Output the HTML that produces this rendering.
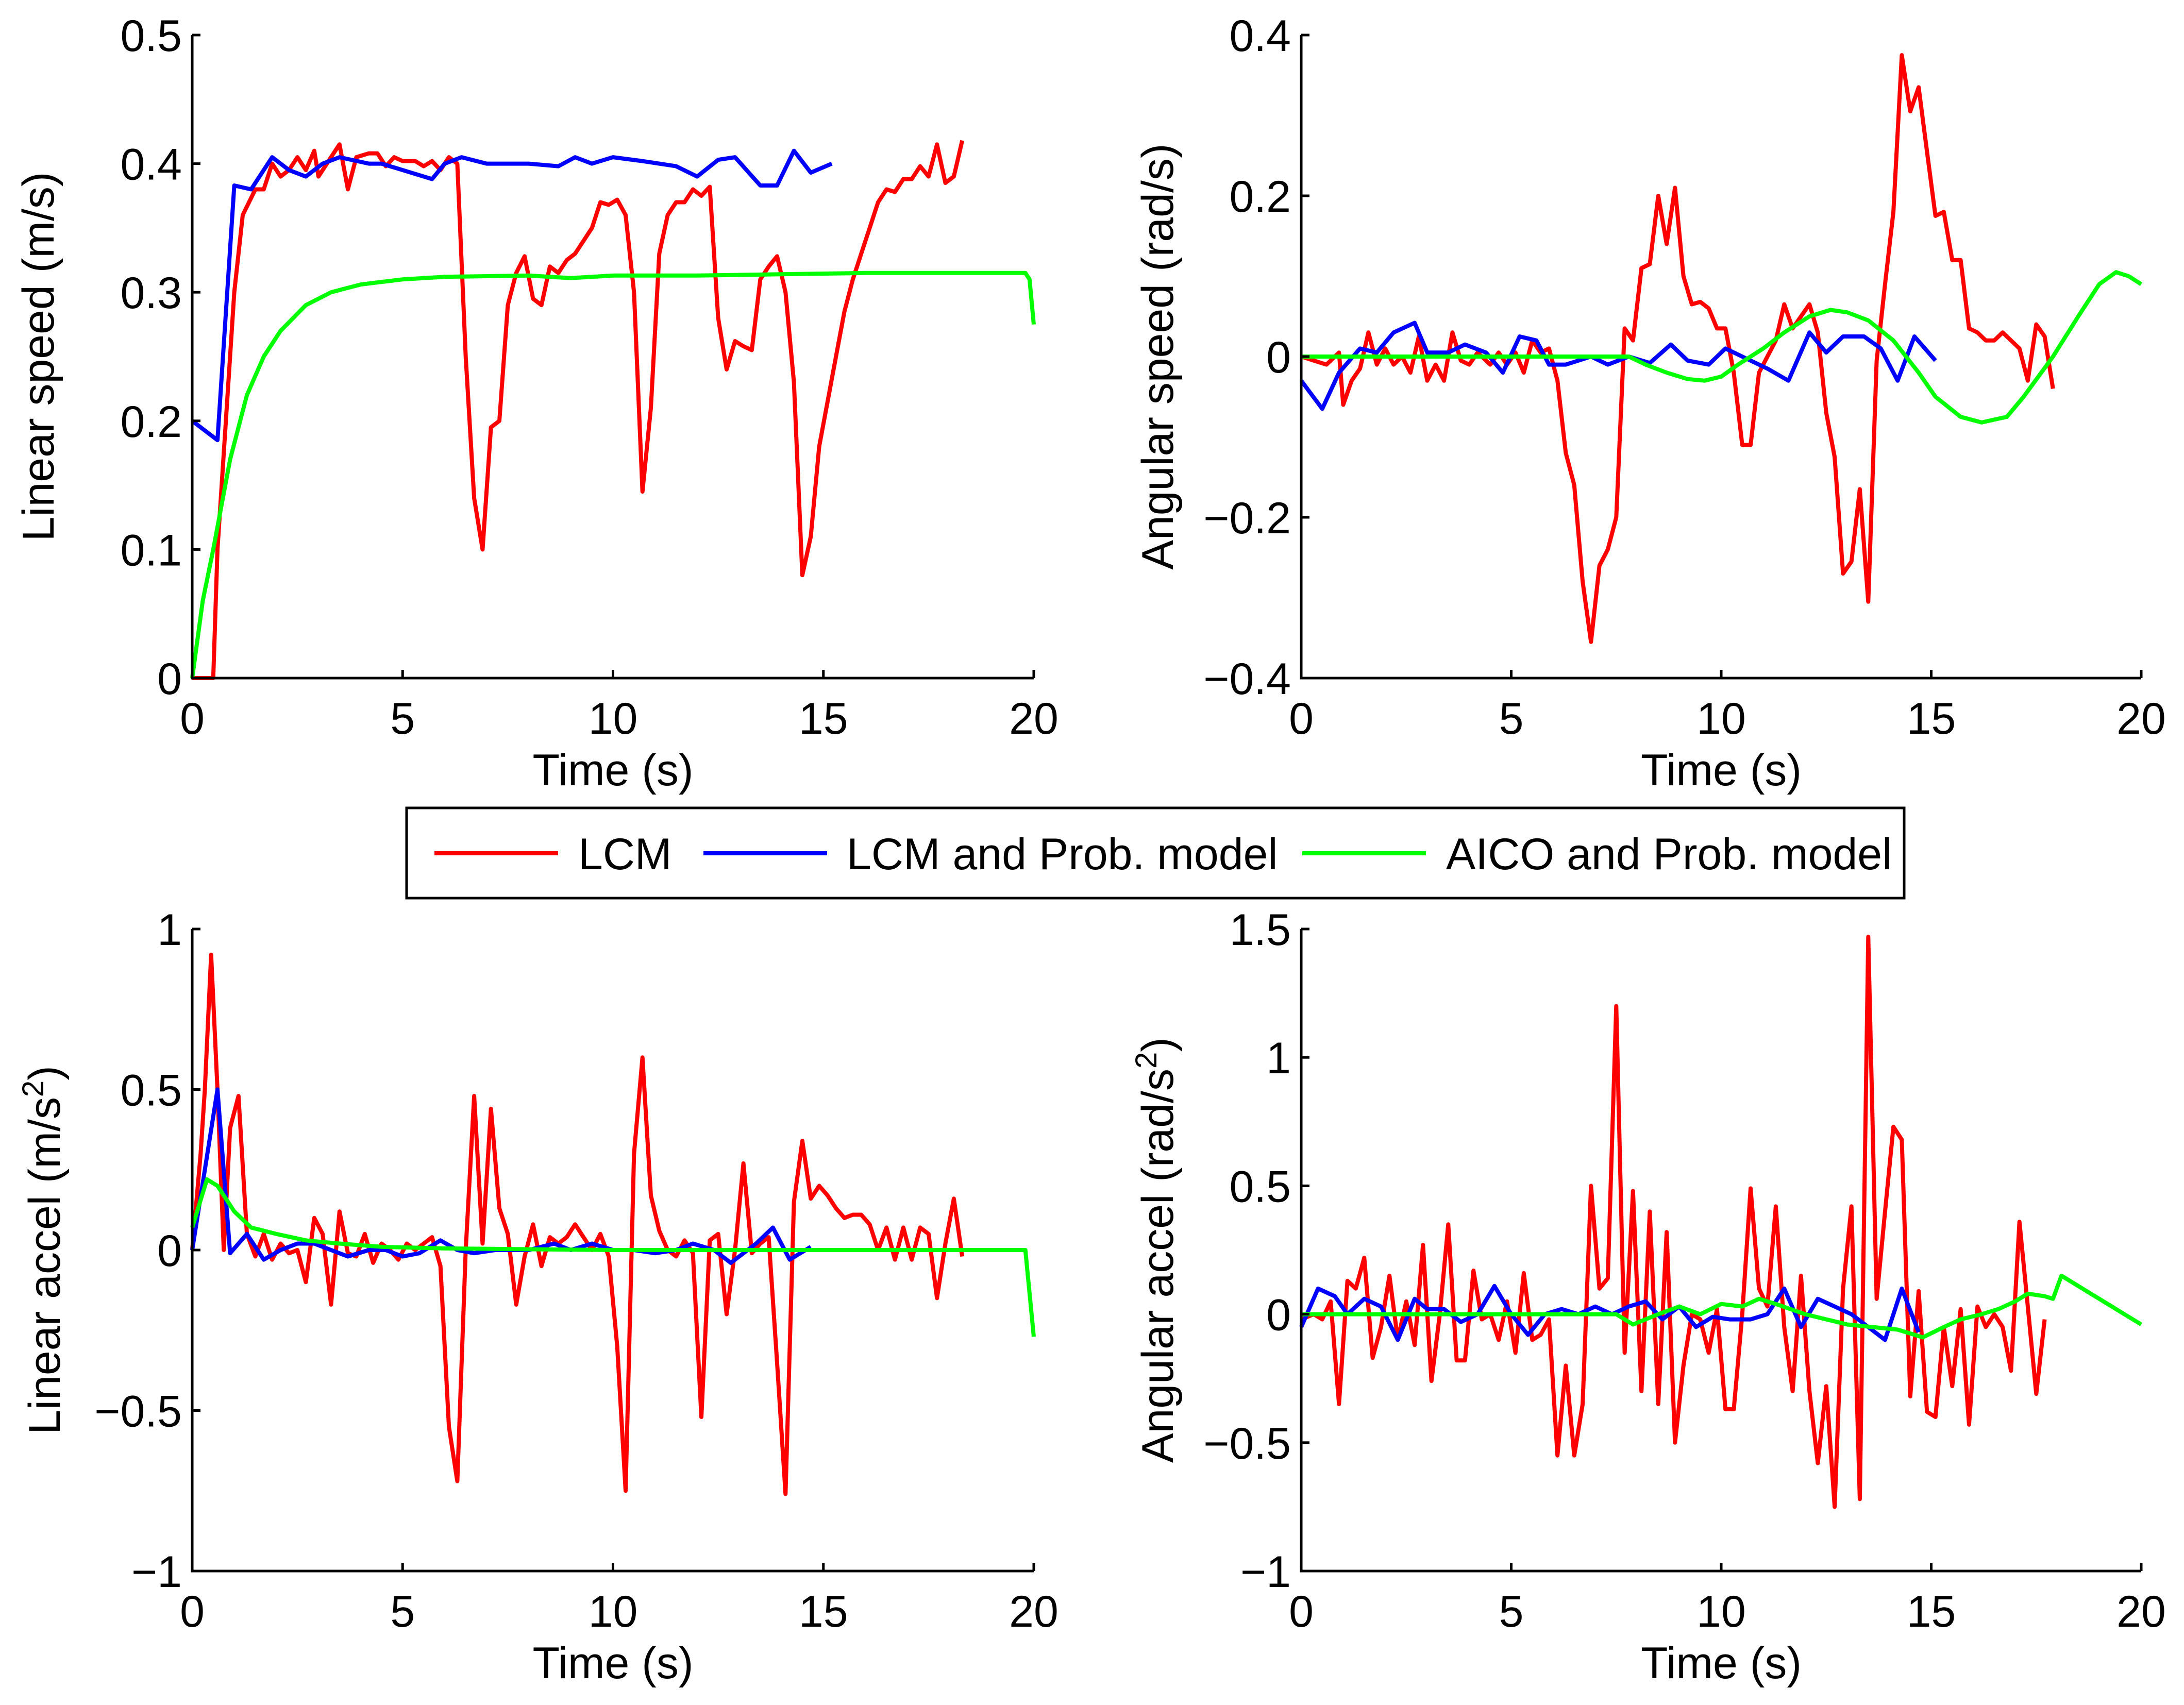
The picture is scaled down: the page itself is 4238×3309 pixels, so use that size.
<!DOCTYPE html>
<html><head><meta charset="utf-8"><style>html,body{margin:0;padding:0;background:#fff}svg{display:block}</style></head>
<body>
<svg id="fig" width="4238" height="3309" viewBox="0 0 4238 3309" xmlns="http://www.w3.org/2000/svg" font-family="Liberation Sans, sans-serif"></svg>
<script>
// ---------- data ----------
const xTicks = [0,5,10,15,20];
const tlYTicks = [0,0.1,0.2,0.3,0.4,0.5];
const tlYLabels = ["0","0.1","0.2","0.3","0.4","0.5"];
const trYTicks = [-0.4,-0.2,0,0.2,0.4];
const trYLabels = ["\u22120.4","\u22120.2","0","0.2","0.4"];
const blYTicks = [-1,-0.5,0,0.5,1];
const blYLabels = ["\u22121","\u22120.5","0","0.5","1"];
const brYTicks = [-1,-0.5,0,0.5,1,1.5];
const brYLabels = ["\u22121","\u22120.5","0","0.5","1","1.5"];

const tlRedT = [0,0.5,0.6,1.0,1.2,1.5,1.7,1.9,2.1,2.3,2.5,2.7,2.9,3.0,3.3,3.5,3.7,3.9,4.2,4.4,4.6,4.8,5.0,5.3,5.5,5.7,5.9,6.1,6.3,6.5,6.7,6.9,7.1,7.3,7.5,7.7,7.9,8.1,8.3,8.5,8.7,8.9,9.1,9.3,9.5,9.7,9.9,10.1,10.3,10.5,10.7,10.9,11.1,11.3,11.5,11.7,11.9,12.1,12.3,12.5,12.7,12.9,13.1,13.3,13.5,13.7,13.9,14.1,14.3,14.5,14.7,14.9,15.1,15.3,15.5,15.7,15.9,16.1,16.3,16.5,16.7,16.9,17.1,17.3,17.5,17.7,17.9,18.1,18.3];
const tlRedV = [0,0,0.1,0.3,0.36,0.38,0.38,0.40,0.39,0.395,0.405,0.395,0.41,0.39,0.405,0.415,0.38,0.405,0.408,0.408,0.398,0.405,0.402,0.402,0.398,0.402,0.395,0.405,0.40,0.25,0.14,0.1,0.195,0.2,0.29,0.315,0.328,0.295,0.29,0.32,0.315,0.325,0.33,0.34,0.35,0.37,0.368,0.372,0.36,0.30,0.145,0.21,0.33,0.36,0.37,0.37,0.38,0.375,0.382,0.28,0.24,0.262,0.258,0.255,0.31,0.32,0.328,0.30,0.23,0.08,0.11,0.18,0.215,0.25,0.285,0.31,0.33,0.35,0.37,0.38,0.378,0.388,0.388,0.398,0.39,0.415,0.385,0.39,0.418];
const tlBlueT = [0,0.6,1.0,1.4,1.9,2.3,2.7,3.1,3.5,4.2,4.5,5.0,5.7,6.0,6.4,7.0,8.0,8.7,9.1,9.5,10.0,10.7,11.5,12.0,12.5,12.9,13.5,13.9,14.3,14.7,15.2];
const tlBlueV = [0.2,0.185,0.383,0.38,0.405,0.395,0.39,0.40,0.405,0.40,0.40,0.395,0.388,0.40,0.405,0.40,0.40,0.398,0.405,0.40,0.405,0.402,0.398,0.39,0.403,0.405,0.383,0.383,0.41,0.393,0.40];
const tlGreenT = [0,0.25,0.5,0.9,1.3,1.7,2.1,2.7,3.3,4,5,6,8,9,10,12,14,16,19.8,19.9,20];
const tlGreenV = [0,0.06,0.1,0.17,0.22,0.25,0.27,0.29,0.30,0.306,0.31,0.312,0.313,0.311,0.313,0.313,0.314,0.315,0.315,0.31,0.275];

const trRedT = [0,0.3,0.6,0.9,1.0,1.2,1.4,1.6,1.8,2.0,2.2,2.4,2.6,2.8,3.0,3.2,3.4,3.6,3.8,4.0,4.2,4.5,4.7,4.9,5.1,5.3,5.5,5.7,5.9,6.1,6.3,6.5,6.7,6.9,7.1,7.3,7.5,7.7,7.9,8.1,8.3,8.5,8.7,8.9,9.1,9.3,9.5,9.7,9.9,10.1,10.3,10.5,10.7,10.9,11.1,11.3,11.5,11.7,11.9,12.1,12.3,12.5,12.7,12.9,13.1,13.3,13.5,13.7,13.9,14.1,14.3,14.5,14.7,14.9,15.1,15.3,15.5,15.7,15.9,16.1,16.3,16.5,16.7,16.9,17.1,17.3,17.5,17.7,17.9];
const trRedV = [0,-0.005,-0.01,0.005,-0.06,-0.03,-0.015,0.03,-0.01,0.01,-0.01,0.0,-0.02,0.025,-0.03,-0.01,-0.03,0.03,-0.005,-0.01,0.005,-0.01,0.005,-0.01,0.005,-0.02,0.02,0.005,0.01,-0.03,-0.12,-0.16,-0.28,-0.355,-0.26,-0.24,-0.2,0.035,0.02,0.11,0.115,0.2,0.14,0.21,0.1,0.065,0.068,0.06,0.035,0.035,-0.02,-0.11,-0.11,-0.02,0.0,0.02,0.065,0.035,0.05,0.065,0.03,-0.07,-0.125,-0.27,-0.255,-0.165,-0.305,-0.005,0.09,0.18,0.375,0.305,0.335,0.255,0.175,0.18,0.12,0.12,0.035,0.03,0.02,0.02,0.03,0.02,0.01,-0.03,0.04,0.025,-0.04];
const trBlueT = [0,0.5,0.9,1.4,1.8,2.2,2.7,3.0,3.5,3.9,4.4,4.8,5.2,5.6,5.9,6.3,6.9,7.3,7.8,8.3,8.8,9.2,9.7,10.1,10.7,11.1,11.6,12.1,12.5,12.9,13.4,13.8,14.2,14.6,15.1];
const trBlueV = [-0.03,-0.065,-0.02,0.01,0.005,0.03,0.042,0.005,0.005,0.015,0.005,-0.02,0.025,0.02,-0.01,-0.01,0.0,-0.01,0.0,-0.008,0.015,-0.005,-0.01,0.01,-0.005,-0.015,-0.03,0.03,0.005,0.025,0.025,0.01,-0.03,0.025,-0.005];
const trGreenT = [0,4,7.8,8.2,8.7,9.2,9.6,10,10.4,11,11.5,12.1,12.6,13,13.5,14.1,14.7,15.1,15.7,16.2,16.8,17.2,17.9,18.5,19,19.4,19.7,20];
const trGreenV = [0,0,0,-0.01,-0.02,-0.028,-0.03,-0.025,-0.01,0.01,0.03,0.05,0.058,0.055,0.045,0.02,-0.02,-0.05,-0.075,-0.082,-0.075,-0.05,0.0,0.05,0.09,0.105,0.1,0.09];

const blRedT = [0,0.2,0.3,0.45,0.6,0.75,0.9,1.1,1.3,1.5,1.7,1.9,2.1,2.3,2.5,2.7,2.9,3.1,3.3,3.5,3.7,3.9,4.1,4.3,4.5,4.7,4.9,5.1,5.3,5.5,5.7,5.9,6.1,6.3,6.5,6.7,6.9,7.1,7.3,7.5,7.7,7.9,8.1,8.3,8.5,8.7,8.9,9.1,9.3,9.5,9.7,9.9,10.1,10.3,10.5,10.7,10.9,11.1,11.3,11.5,11.7,11.9,12.1,12.3,12.5,12.7,12.9,13.1,13.3,13.5,13.7,13.9,14.1,14.3,14.5,14.7,14.9,15.1,15.3,15.5,15.7,15.9,16.1,16.3,16.5,16.7,16.9,17.1,17.3,17.5,17.7,17.9,18.1,18.3];
const blRedV = [0,0.3,0.5,0.92,0.5,0.0,0.38,0.48,0.05,-0.02,0.05,-0.03,0.02,-0.01,0.0,-0.1,0.1,0.05,-0.17,0.12,-0.01,-0.02,0.05,-0.04,0.02,0.0,-0.03,0.02,0.0,0.02,0.04,-0.05,-0.55,-0.72,0.0,0.48,0.02,0.44,0.13,0.05,-0.17,-0.02,0.08,-0.05,0.04,0.02,0.04,0.08,0.04,0.0,0.05,-0.02,-0.3,-0.75,0.3,0.6,0.17,0.06,0.0,-0.02,0.03,-0.01,-0.52,0.03,0.05,-0.2,0.0,0.27,-0.01,0.02,0.04,-0.35,-0.76,0.15,0.34,0.16,0.2,0.17,0.13,0.1,0.11,0.11,0.08,0.0,0.07,-0.03,0.07,-0.03,0.07,0.05,-0.15,0.02,0.16,-0.02];
const blBlueT = [0,0.3,0.6,0.9,1.3,1.7,2.1,2.5,2.9,3.3,3.7,4.2,4.6,5.0,5.4,5.9,6.3,6.7,7.2,7.6,8.0,8.6,9.0,9.5,10.0,10.5,11.0,11.5,11.9,12.4,12.8,13.4,13.8,14.2,14.7];
const blBlueV = [0,0.25,0.5,-0.01,0.05,-0.03,0.0,0.02,0.02,0.0,-0.02,0.0,0.0,-0.02,-0.01,0.03,0.0,-0.01,0.0,0.0,0.0,0.02,0.0,0.02,0.0,0.0,-0.01,0.0,0.02,0.0,-0.04,0.02,0.07,-0.03,0.01];
const blGreenT = [0,0.35,0.6,1,1.4,2,2.7,3.5,4.5,6,10,15,19.8,20];
const blGreenV = [0.07,0.22,0.2,0.12,0.07,0.05,0.03,0.02,0.01,0.005,0,0,0,-0.27];

const brRedT = [0,0.3,0.5,0.7,0.9,1.1,1.3,1.5,1.7,1.9,2.1,2.3,2.5,2.7,2.9,3.1,3.3,3.5,3.7,3.9,4.1,4.3,4.5,4.7,4.9,5.1,5.3,5.5,5.7,5.9,6.1,6.3,6.5,6.7,6.9,7.1,7.3,7.5,7.7,7.9,8.1,8.3,8.5,8.7,8.9,9.1,9.3,9.5,9.7,9.9,10.1,10.3,10.5,10.7,10.9,11.1,11.3,11.5,11.7,11.9,12.1,12.3,12.5,12.7,12.9,13.1,13.3,13.5,13.7,13.9,14.1,14.3,14.5,14.7,14.9,15.1,15.3,15.5,15.7,15.9,16.1,16.3,16.5,16.7,16.9,17.1,17.3,17.5,17.7];
const brRedV = [-0.02,0.0,-0.02,0.05,-0.35,0.13,0.1,0.22,-0.17,-0.05,0.15,-0.1,0.05,-0.12,0.27,-0.26,0.0,0.35,-0.18,-0.18,0.17,-0.02,0.0,-0.1,0.05,-0.15,0.16,-0.1,-0.08,-0.02,-0.55,-0.2,-0.55,-0.35,0.5,0.1,0.14,1.2,-0.15,0.48,-0.3,0.4,-0.35,0.32,-0.5,-0.2,0.0,-0.02,-0.15,0.02,-0.37,-0.37,0.0,0.49,0.1,0.03,0.42,-0.05,-0.3,0.15,-0.3,-0.58,-0.28,-0.75,0.1,0.42,-0.72,1.47,0.06,0.4,0.73,0.68,-0.32,0.09,-0.38,-0.4,-0.05,-0.28,0.02,-0.43,0.03,-0.05,0.0,-0.05,-0.22,0.36,0.03,-0.31,-0.02];
const brBlueT = [0,0.4,0.8,1.1,1.5,1.9,2.3,2.7,3.0,3.4,3.8,4.2,4.6,5.0,5.4,5.8,6.2,6.6,7.0,7.4,7.8,8.2,8.6,9.0,9.4,9.8,10.2,10.7,11.1,11.5,11.9,12.3,12.7,13.1,13.5,13.9,14.3,14.7];
const brBlueV = [-0.05,0.1,0.07,0.0,0.06,0.03,-0.1,0.06,0.02,0.02,-0.03,0.0,0.11,0.0,-0.08,0.0,0.02,0.0,0.03,0.0,0.03,0.05,-0.02,0.03,-0.05,-0.01,-0.02,-0.02,0.0,0.1,-0.05,0.06,0.03,0.0,-0.05,-0.1,0.1,-0.07];
const brGreenT = [0,4,7.5,7.9,8.5,9,9.5,10,10.5,10.9,11.3,12,13,14.2,14.8,15.3,15.7,16.2,16.6,17,17.3,17.7,17.9,18.1,18.6,19.1,19.6,20];
const brGreenV = [0,0,0,-0.04,0,0.03,0.0,0.04,0.03,0.06,0.04,0.0,-0.04,-0.06,-0.09,-0.05,-0.02,0.0,0.02,0.05,0.08,0.07,0.06,0.15,0.1,0.05,0.0,-0.04];

// ---------- drawing ----------
const NS = "http://www.w3.org/2000/svg";
const svg = document.getElementById('fig');
const FS = 86;
function mk(tag, attrs, parent){ const e=document.createElementNS(NS,tag); for(const k in attrs) e.setAttribute(k,attrs[k]); (parent||svg).appendChild(e); return e; }

function panel(name, box, ymin, ymax, yTicks, yLabels, yLabelParts, series){
  const g = mk('g',{});
  
  
  const sx = t => box.x0 + (t-0)/(20-0)*(box.x1-box.x0);
  const sy = v => box.yb - (v-ymin)/(ymax-ymin)*(box.yb-box.yt);
  const colors = {red:'#ff0000', blue:'#0000ff', green:'#00ff00'};
  series.forEach(s=>{
    let d=''; s.t.forEach((t,i)=>{ d += (i?'L':'M') + sx(t).toFixed(1)+','+sy(s.v[i]).toFixed(1); });
    const p = mk('path',{d:d, fill:'none', stroke:colors[s.c], 'stroke-width':8, 'stroke-linejoin':'round'}, g);
    
    
  });
  const ax = mk('path',{d:`M${box.x0},${box.yt}L${box.x0},${box.yb}L${box.x1},${box.yb}`, fill:'none', stroke:'#000','stroke-width':5}, g);
  
  
  xTicks.forEach(t=>{
    mk('line',{x1:sx(t),x2:sx(t),y1:box.yb,y2:box.yb-16,stroke:'#000','stroke-width':5},g);
    const tx = mk('text',{x:sx(t),y:box.yb+108,'font-size':FS,'text-anchor':'middle'},g);
    tx.textContent = String(t);
    
    
  });
  yTicks.forEach((v,i)=>{
    mk('line',{x1:box.x0,x2:box.x0+16,y1:sy(v),y2:sy(v),stroke:'#000','stroke-width':5},g);
    const tx = mk('text',{x:box.x0-20,y:sy(v)+31,'font-size':FS,'text-anchor':'end'},g);
    tx.textContent = yLabels[i];
    
    
  });
  const xl = mk('text',{x:(box.x0+box.x1)/2,y:box.yb+208,'font-size':FS,'text-anchor':'middle'},g);
  xl.textContent = 'Time (s)';
  
  
  const yl = mk('text',{x:0,y:0,'font-size':FS,'text-anchor':'middle',transform:`translate(${box.ylx},${(box.yt+box.yb)/2}) rotate(-90)`},g);
  
  
  yLabelParts.forEach(p=>{
    const ts = mk('tspan',{},yl);
    if(p.sup){ ts.setAttribute('baseline-shift','super'); ts.setAttribute('font-size', 58); }
    ts.textContent = p.s;
  });
}

panel('linear-speed-chart',{x0:373,x1:2006,yt:68,yb:1316,ylx:104},0,0.5,tlYTicks,tlYLabels,[{s:'Linear speed (m/s)'}],
  [{name:'lcm-line',c:'red',t:tlRedT,v:tlRedV},{name:'lcm-prob-line',c:'blue',t:tlBlueT,v:tlBlueV},{name:'aico-prob-line',c:'green',t:tlGreenT,v:tlGreenV}]);
panel('angular-speed-chart',{x0:2525,x1:4155,yt:68,yb:1316,ylx:2276},-0.4,0.4,trYTicks,trYLabels,[{s:'Angular speed (rad/s)'}],
  [{name:'lcm-line',c:'red',t:trRedT,v:trRedV},{name:'lcm-prob-line',c:'blue',t:trBlueT,v:trBlueV},{name:'aico-prob-line',c:'green',t:trGreenT,v:trGreenV}]);
panel('linear-accel-chart',{x0:373,x1:2006,yt:1803,yb:3049,ylx:116},-1,1,blYTicks,blYLabels,[{s:'Linear accel (m/s'},{s:'2',sup:true},{s:')'}],
  [{name:'lcm-line',c:'red',t:blRedT,v:blRedV},{name:'lcm-prob-line',c:'blue',t:blBlueT,v:blBlueV},{name:'aico-prob-line',c:'green',t:blGreenT,v:blGreenV}]);
panel('angular-accel-chart',{x0:2525,x1:4155,yt:1803,yb:3049,ylx:2276},-1,1.5,brYTicks,brYLabels,[{s:'Angular accel (rad/s'},{s:'2',sup:true},{s:')'}],
  [{name:'lcm-line',c:'red',t:brRedT,v:brRedV},{name:'lcm-prob-line',c:'blue',t:brBlueT,v:brBlueV},{name:'aico-prob-line',c:'green',t:brGreenT,v:brGreenV}]);

// legend
const lg = mk('g',{});


mk('rect',{x:789,y:1568,width:2906,height:175,fill:'#fff',stroke:'#000','stroke-width':5},lg);
const entries = [['LCM','#ff0000',843,1122],['LCM and Prob. model','#0000ff',1365,1643],['AICO and Prob. model','#00ff00',2527,2806]];
entries.forEach(e=>{
  const it = mk('g',{},lg);
  
  
  mk('line',{x1:e[2],x2:e[2]+240,y1:1656,y2:1656,stroke:e[1],'stroke-width':8},it);
  const t = mk('text',{x:e[3],y:1687,'font-size':FS},it);
  t.textContent = e[0];
});
</script>
</body></html>
